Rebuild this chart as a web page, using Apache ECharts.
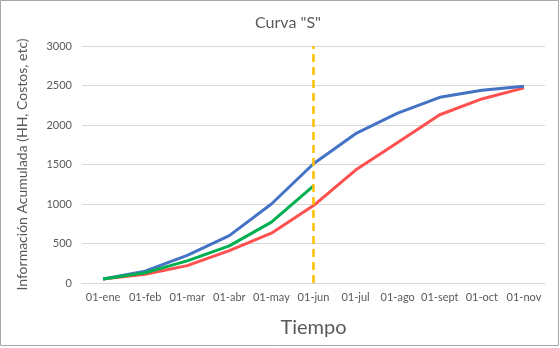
<!DOCTYPE html>
<html><head><meta charset="utf-8">
<script src="https://cdn.jsdelivr.net/npm/echarts@6/dist/echarts.min.js"></script>
<style>html,body{margin:0;padding:0;background:#fff}#c{width:560px;height:348px}</style>
</head><body><div id="c"></div>
<script>
const categories = ['01-ene','01-feb','01-mar','01-abr','01-may','01-jun','01-jul','01-ago','01-sept','01-oct','01-nov'];
const planned = [50,150,350,600,1000,1510,1890,2150,2350,2440,2490];
const actual = [50,110,220,410,630,980,1430,1780,2130,2330,2470];
const progress = [50,130,280,470,770,1230];
const cutoff = '01-jun';
const yTicks = {min:0, max:3000, interval:500};

const chart = echarts.init(document.getElementById('c'));
const font = 'Lato';
chart.setOption({
  animation:false,
  textStyle:{fontFamily:font},
  title:{text:'Curva "S"', left:283, top:10, textAlign:'center',
    textStyle:{fontFamily:font, fontSize:16, fontWeight:'normal', color:'#595959'}},
  graphic:[{type:'rect', shape:{x:0.5,y:0.5,width:558,height:345}, style:{fill:'none', stroke:'#a6a6a6', lineWidth:1}, silent:true}],
  grid:{left:82, right:15, top:46, bottom:65},
  xAxis:{type:'category', data:categories, boundaryGap:true,
    name:'Tiempo', nameLocation:'middle', nameGap:35,
    nameTextStyle:{fontFamily:font, fontSize:20, color:'#595959'},
    axisLine:{lineStyle:{color:'#d9d9d9'}}, axisTick:{show:false},
    axisLabel:{fontFamily:font, fontSize:11, color:'#595959', margin:9, interval:0}},
  yAxis:{type:'value', min:yTicks.min, max:yTicks.max, interval:yTicks.interval,
    name:'Información Acumulada (HH, Costos, etc)', nameLocation:'middle', nameGap:53,
    nameTextStyle:{fontFamily:font, fontSize:14, color:'#595959'},
    axisLine:{show:false}, axisTick:{show:false},
    splitLine:{lineStyle:{color:'#d9d9d9'}},
    axisLabel:{fontFamily:font, fontSize:11, color:'#595959', margin:10, formatter:v=>String(v)}},
  series:[
    {type:'line', data:planned, symbol:'none', lineStyle:{color:'#4472C4', width:3}, itemStyle:{color:'#4472C4'}, z:3},
    {type:'line', data:actual, symbol:'none', lineStyle:{color:'#FF5050', width:3}, itemStyle:{color:'#FF5050'}, z:2},
    {type:'line', data:progress, symbol:'none', lineStyle:{color:'#00B050', width:3}, itemStyle:{color:'#00B050'}, z:4,
      markLine:{silent:true, symbol:'none', label:{show:false},
        lineStyle:{color:'#FFC000', width:2.5, type:[8,5]},
        data:[{xAxis:cutoff}]}}
  ]
});
</script></body></html>
